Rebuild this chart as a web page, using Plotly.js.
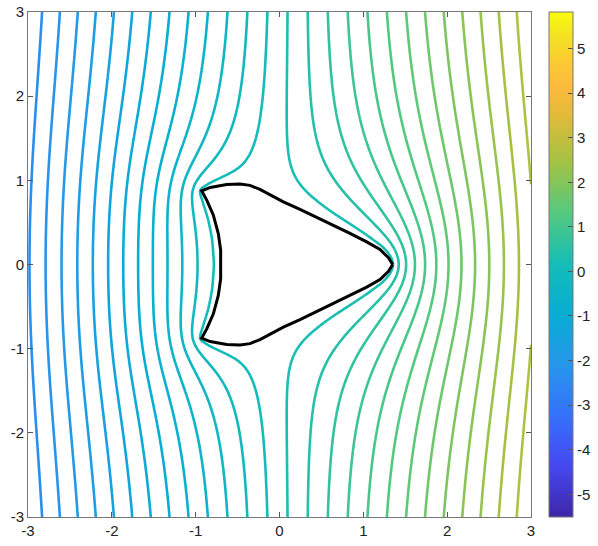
<!DOCTYPE html>
<html>
<head>
<meta charset="utf-8">
<script src="https://cdn.plot.ly/plotly-3.0.1.min.js"></script>
<style>
  html, body { margin: 0; padding: 0; background: #fff; }
  #myDiv { width: 598px; height: 546px; }
</style>
</head>
<body>
<div id="myDiv"></div>
<script>
// body outline, upper half, from the right tip round to the middle of the left side
var bodyTopX = [1.35, 1.3, 1.199, 1.04, 0.841, 0.642, 0.444, 0.245, 0.046, -0.113, -0.233, -0.352, -0.471, -0.63, -0.826, -0.928, -0.868, -0.789, -0.73, -0.702, -0.698];
var bodyTopY = [0.0, 0.08, 0.178, 0.269, 0.369, 0.467, 0.559, 0.654, 0.744, 0.824, 0.892, 0.94, 0.955, 0.951, 0.916, 0.875, 0.765, 0.586, 0.368, 0.17, 0.0];

// far field: u ~ slope*(x-centre)*(1 - dipole/r^2) + offset, body is an uncharged conductor
var fieldSlope = 0.94;
var fieldOffset = 0.24;
var dipole = 1.0;
var dipoleCentre = 0.15;

// contour levels and colour range
var levelStart = -5.8, levelEnd = 5.8, levelStep = 0.2;
var colorMin = -5.51, colorMax = 5.82;

var tickVals = [-3, -2, -1, 0, 1, 2, 3];
var tickText = ['-3', '-2', '-1', '0', '1', '2', '3'];
var cbVals = [-5, -4, -3, -2, -1, 0, 1, 2, 3, 4, 5];
var cbText = ['-5', '-4', '-3', '-2', '-1', '0', '1', '2', '3', '4', '5'];

var parula = [
  [0.0, 'rgb(62,38,168)'],
  [0.1, 'rgb(70,72,240)'],
  [0.2, 'rgb(54,112,252)'],
  [0.3, 'rgb(39,150,235)'],
  [0.4, 'rgb(8,173,212)'],
  [0.5, 'rgb(20,189,184)'],
  [0.6, 'rgb(84,201,128)'],
  [0.7, 'rgb(161,194,69)'],
  [0.8, 'rgb(229,186,56)'],
  [0.85, 'rgb(252,186,62)'],
  [0.9, 'rgb(252,202,51)'],
  [0.95, 'rgb(245,225,36)'],
  [1.0, 'rgb(249,251,14)']
];

// full outline = upper half + mirrored lower half
var bodyX = bodyTopX.slice(), bodyY = bodyTopY.slice();
for (var m = bodyTopX.length - 2; m >= 0; m--) {
  bodyX.push(bodyTopX[m]);
  bodyY.push(-bodyTopY[m]);
}

function inside(x, y) {
  var c = false;
  for (var a = 0, b = bodyX.length - 1; a < bodyX.length; b = a++) {
    if ((bodyY[a] > y) != (bodyY[b] > y) &&
        x < (bodyX[b] - bodyX[a]) * (y - bodyY[a]) / (bodyY[b] - bodyY[a]) + bodyX[a]) c = !c;
  }
  return c;
}

function far(x, y) {
  var dx = x - dipoleCentre;
  var r2 = Math.max(dx * dx + y * y, 0.5);
  return fieldSlope * dx * (1 - dipole / r2) + fieldOffset;
}

// laplace on a box bigger than the view
var L = 4.5, h = 0.025, n = Math.round(2 * L / h) + 1;
var inBody = new Uint8Array(n * n);
for (var j = 0; j < n; j++)
  for (var i = 0; i < n; i++)
    if (inside(-L + i * h, -L + j * h)) inBody[j * n + i] = 1;

function solve(bodyVal, edge) {
  var u = new Float64Array(n * n);
  for (var j = 0; j < n; j++) {
    for (var i = 0; i < n; i++) {
      var k = j * n + i;
      u[k] = inBody[k] ? bodyVal : edge(-L + i * h, -L + j * h);
    }
  }
  var w = 2 / (1 + Math.sin(Math.PI / n));
  for (var it = 0; it < 800; it++) {
    for (var j = 1; j < n - 1; j++) {
      for (var i = 1, k = j * n + 1; i < n - 1; i++, k++) {
        if (inBody[k]) continue;
        u[k] += w * (0.25 * (u[k - 1] + u[k + 1] + u[k - n] + u[k + n]) - u[k]);
      }
    }
  }
  return u;
}

// net flux out of the body
function charge(u) {
  var q = 0;
  for (var j = 1; j < n - 1; j++)
    for (var i = 1, k = j * n + 1; i < n - 1; i++, k++)
      if (inBody[k]) q += u[k - 1] + u[k + 1] + u[k - n] + u[k + n] - 4 * u[k];
  return q;
}

var u1 = solve(0, far);
var u2 = solve(1, function () { return 0; });
var bodyLevel = -charge(u1) / charge(u2);

// cut out [-3,3]
var i0 = Math.round((L - 3) / h), cnt = Math.round(6 / h) + 1;
var xs = [], ys = [], zs = [];
for (var a = 0; a < cnt; a++) { xs.push(-3 + a * h); ys.push(-3 + a * h); }
for (var j = 0; j < cnt; j++) {
  var row = [];
  for (var i = 0; i < cnt; i++) {
    var k = (j + i0) * n + i + i0;
    row.push(u1[k] + bodyLevel * u2[k]);
  }
  zs.push(row);
}

var field = {
  type: 'contour',
  x: xs, y: ys, z: zs,
  contours: { coloring: 'lines', start: levelStart, end: levelEnd, size: levelStep },
  line: { width: 2.6, smoothing: 1 },
  colorscale: parula,
  zauto: false, zmin: colorMin, zmax: colorMax,
  showscale: false,
  hoverinfo: 'skip'
};

var outline = {
  type: 'scatter', mode: 'lines',
  x: bodyX, y: bodyY,
  line: { color: 'black', width: 3 },
  hoverinfo: 'skip', showlegend: false
};

// only there to carry the continuous colour bar
var bar = {
  type: 'scatter', mode: 'markers',
  x: [0], y: [0],
  marker: {
    size: 1, opacity: 0, color: [colorMin],
    colorscale: parula, cmin: colorMin, cmax: colorMax, showscale: true,
    colorbar: {
      x: 1.0364, xanchor: 'left', xpad: 0,
      y: 0.5, yanchor: 'middle', len: 1.0, ypad: 0,
      thickness: 24,
      outlinecolor: '#777', outlinewidth: 1,
      ticks: 'inside', ticklen: 5, tickcolor: '#555',
      tickvals: cbVals, ticktext: cbText,
      tickfont: { family: 'Liberation Sans, Arial, sans-serif', size: 15, color: '#222' }
    }
  },
  hoverinfo: 'skip', showlegend: false
};

var axisStyle = {
  range: [-3, 3],
  showgrid: false, zeroline: false,
  showline: true, mirror: 'ticks', linecolor: '#777', linewidth: 1,
  ticks: 'inside', ticklen: 5, tickcolor: '#555',
  tickvals: tickVals, ticktext: tickText,
  tickfont: { family: 'Liberation Sans, Arial, sans-serif', size: 15, color: '#222' }
};

var layout = {
  width: 598, height: 546,
  margin: { l: 28, r: 67, t: 12, b: 29, autoexpand: false },
  paper_bgcolor: 'white', plot_bgcolor: 'white',
  showlegend: false,
  xaxis: Object.assign({}, axisStyle),
  yaxis: Object.assign({}, axisStyle)
};

Plotly.newPlot('myDiv', [field, outline, bar], layout, { staticPlot: true });
</script>
</body>
</html>
